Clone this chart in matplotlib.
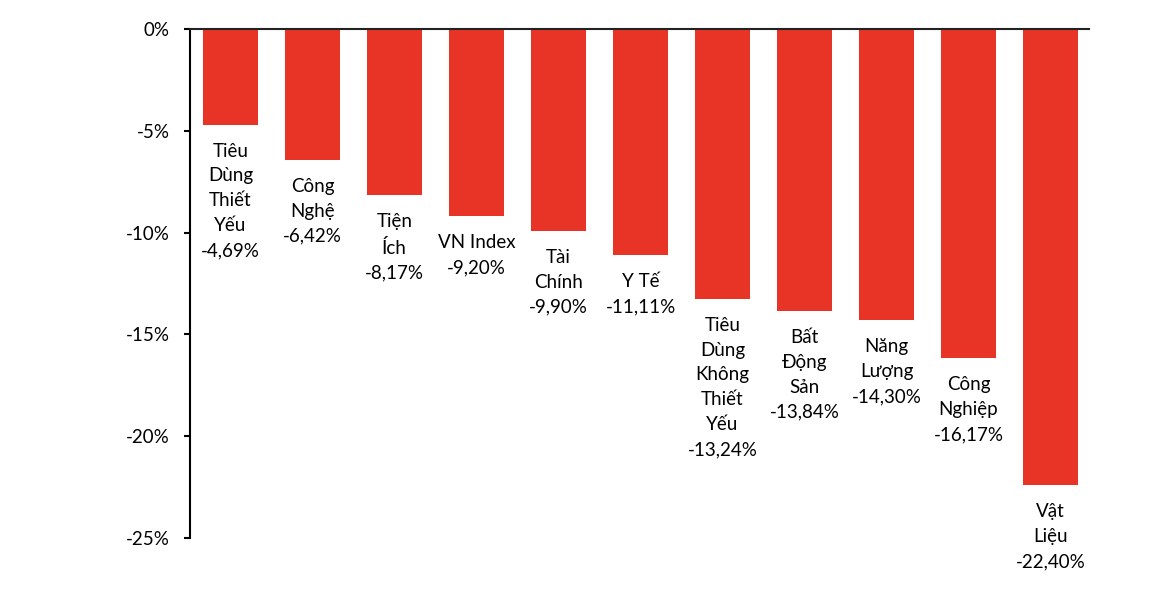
import matplotlib
matplotlib.use("Agg")
import matplotlib.pyplot as plt
from matplotlib.ticker import FuncFormatter

categories = ["Tiêu\nDùng\nThiết\nYếu", "Công\nNghệ", "Tiện\nÍch", "VN Index", "Tài\nChính",
              "Y Tế", "Tiêu\nDùng\nKhông\nThiết\nYếu", "Bất\nĐộng\nSản", "Năng\nLượng",
              "Công\nNghiệp", "Vật\nLiệu"]
values = [-4.69, -6.42, -8.17, -9.20, -9.90, -11.11, -13.24, -13.84, -14.30, -16.17, -22.40]
yticks = [0, -5, -10, -15, -20, -25]

plt.rcParams['font.family'] = ['Lato', 'DejaVu Sans']

fig = plt.figure(figsize=(11.68, 6.04), dpi=100)
ax = fig.add_axes([0.1627, 0.109, 0.7697, 0.843])

x = list(range(len(values)))
ax.bar(x, values, width=0.67, color='#E73426', zorder=2)

for xi, v, name in zip(x, values, categories):
    label = name + "\n" + ("%.2f%%" % v).replace(".", ",")
    ax.annotate(label, xy=(xi, v), xytext=(0, -13), textcoords='offset points',
                ha='center', va='top', fontsize=13.5, linespacing=1.56, color='black')

ax.set_xlim(-0.494, 10.47)
ax.set_ylim(-25, 0)
ax.set_yticks(yticks)
ax.yaxis.set_major_formatter(FuncFormatter(lambda v, p: "%d%%" % v))
ax.tick_params(axis='y', labelsize=13.5, length=4.5, width=1.5, pad=10)
ax.set_xticks([])

ax.spines['right'].set_visible(False)
ax.spines['bottom'].set_visible(False)
ax.spines['left'].set_linewidth(1.5)
ax.spines['top'].set_linewidth(1.5)
ax.spines['top'].set_color('#222222')
ax.spines['top'].set_zorder(3)

fig.savefig("out.png", dpi=100)
